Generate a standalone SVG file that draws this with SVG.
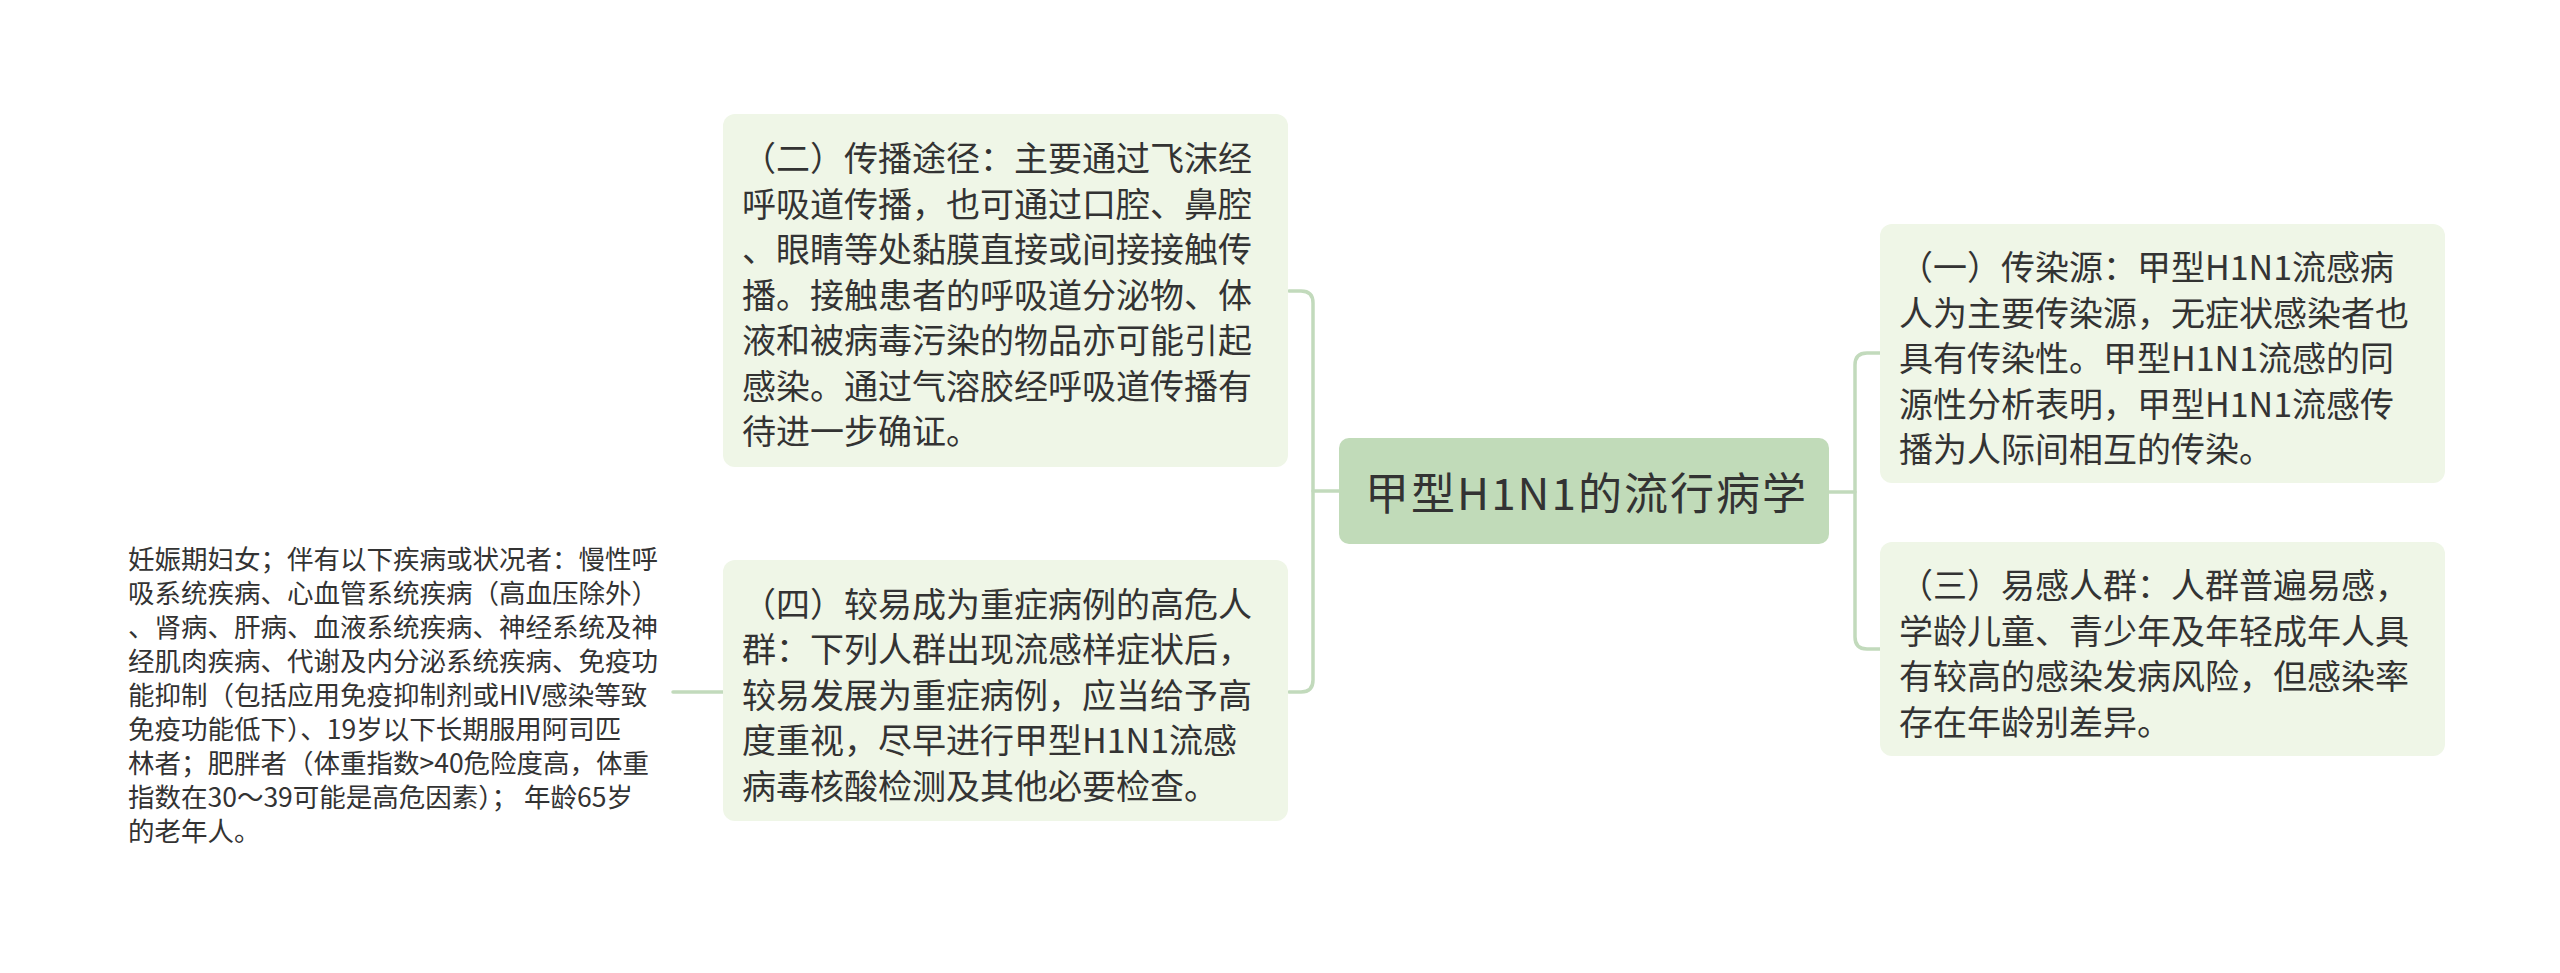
<svg xmlns="http://www.w3.org/2000/svg" width="2560" height="973" viewBox="0 0 2560 973">
<style>
.bg{fill:#ffffff}
.node{fill:#eff6e7}
.root{fill:#c1dbb9}
.t{font-family:"Noto Sans CJK SC","Noto Sans",sans-serif;fill:#333333;dominant-baseline:central}
.nt{font-size:34px}
.lt{font-size:26.5px}
.rt{font-size:44px}
.conn{fill:none;stroke:#c2dabc;stroke-width:3.5;stroke-linecap:round}
</style>
<rect class="bg" x="0" y="0" width="2560" height="973"/>
<g id="connectors">
<path class="conn" d="M1339 491 H1313"/>
<path class="conn" d="M1289 291 H1301 Q1313 291 1313 303 V680 Q1313 692 1301 692 H1289"/>
<path class="conn" d="M1829 492 H1855"/>
<path class="conn" d="M1880 353 H1867 Q1855 353 1855 365 V637 Q1855 649 1867 649 H1880"/>
<path class="conn" d="M723 692 H673"/>
</g>
<g id="root">
<rect class="root" x="1339" y="438" width="490" height="106" rx="10"/>
<text class="t rt" x="1365" y="491" textLength="441" lengthAdjust="spacing">甲型H1N1的流行病学</text>
</g>
<g id="node2">
<rect class="node" x="723" y="114" width="565" height="353" rx="12"/>
<text class="t nt" x="742">
<tspan x="742" y="156">（二）传播途径：主要通过飞沫经</tspan>
<tspan x="742" y="201.5">呼吸道传播，也可通过口腔、鼻腔</tspan>
<tspan x="742" y="247">、眼睛等处黏膜直接或间接接触传</tspan>
<tspan x="742" y="292.5">播。接触患者的呼吸道分泌物、体</tspan>
<tspan x="742" y="338">液和被病毒污染的物品亦可能引起</tspan>
<tspan x="742" y="383.5">感染。通过气溶胶经呼吸道传播有</tspan>
<tspan x="742" y="429">待进一步确证。</tspan>
</text>
</g>
<g id="node4">
<rect class="node" x="723" y="560" width="565" height="261" rx="12"/>
<text class="t nt" x="742">
<tspan x="742" y="601.5">（四）较易成为重症病例的高危人</tspan>
<tspan x="742" y="647">群：下列人群出现流感样症状后，</tspan>
<tspan x="742" y="692.5">较易发展为重症病例，应当给予高</tspan>
<tspan x="742" y="738">度重视，尽早进行甲型H1N1流感</tspan>
<tspan x="742" y="783.5">病毒核酸检测及其他必要检查。</tspan>
</text>
</g>
<g id="node1">
<rect class="node" x="1880" y="224" width="565" height="259" rx="12"/>
<text class="t nt" x="1899">
<tspan x="1899" y="265">（一）传染源：甲型H1N1流感病</tspan>
<tspan x="1899" y="310.5">人为主要传染源，无症状感染者也</tspan>
<tspan x="1899" y="356">具有传染性。甲型H1N1流感的同</tspan>
<tspan x="1899" y="401.5">源性分析表明，甲型H1N1流感传</tspan>
<tspan x="1899" y="447">播为人际间相互的传染。</tspan>
</text>
</g>
<g id="node3">
<rect class="node" x="1880" y="542" width="565" height="214" rx="12"/>
<text class="t nt" x="1899">
<tspan x="1899" y="583">（三）易感人群：人群普遍易感，</tspan>
<tspan x="1899" y="628.5">学龄儿童、青少年及年轻成年人具</tspan>
<tspan x="1899" y="674">有较高的感染发病风险，但感染率</tspan>
<tspan x="1899" y="719.5">存在年龄别差异。</tspan>
</text>
</g>
<g id="leaf">
<text class="t lt" x="128" xml:space="preserve">
<tspan x="128" y="557">妊娠期妇女；伴有以下疾病或状况者：慢性呼</tspan>
<tspan x="128" y="591">吸系统疾病、心血管系统疾病（高血压除外）</tspan>
<tspan x="128" y="625">、肾病、肝病、血液系统疾病、神经系统及神</tspan>
<tspan x="128" y="659">经肌肉疾病、代谢及内分泌系统疾病、免疫功</tspan>
<tspan x="128" y="693">能抑制（包括应用免疫抑制剂或HIV感染等致</tspan>
<tspan x="128" y="727">免疫功能低下）、19岁以下长期服用阿司匹</tspan>
<tspan x="128" y="761">林者；肥胖者（体重指数&gt;40危险度高，体重</tspan>
<tspan x="128" y="795">指数在30～39可能是高危因素）； 年龄65岁</tspan>
<tspan x="128" y="829">的老年人。</tspan>
</text>
</g>
</svg>
